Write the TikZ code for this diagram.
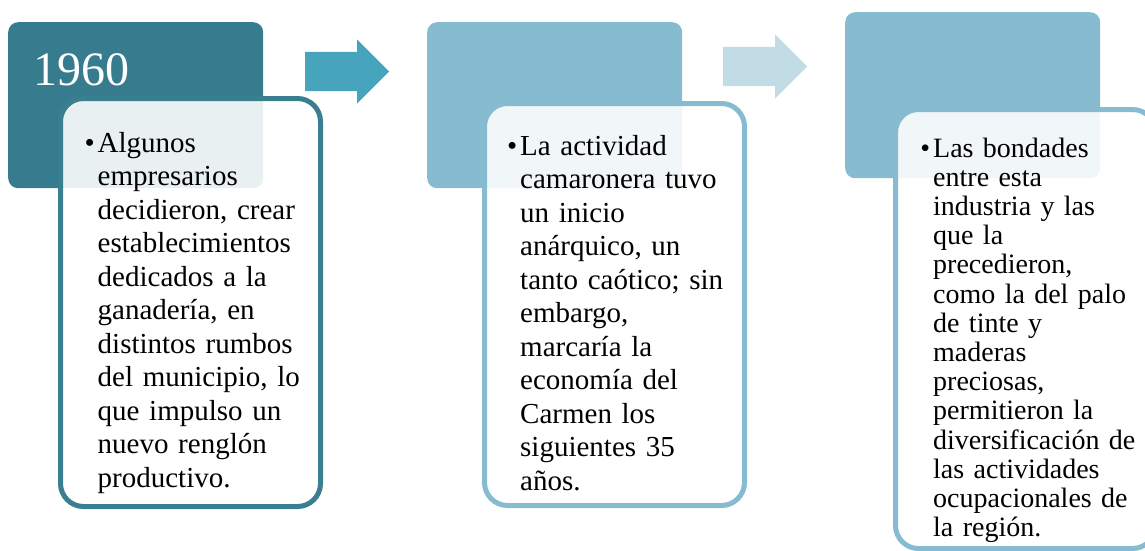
\documentclass[tikz,border=0pt]{standalone}
\usepackage{fontspec}
\setmainfont{Liberation Serif}
\usetikzlibrary{positioning}

\definecolor{tealdark}{HTML}{367C8E}
\definecolor{tealline}{HTML}{3A7F90}
\definecolor{tealarrow}{HTML}{46A4BC}
\definecolor{bluesoft}{HTML}{86BBD0}
\definecolor{bluepale}{HTML}{C2DCE5}

\begin{document}
\begin{tikzpicture}[x=1pt,y=-1pt,
    yearbox/.style={rectangle,rounded corners=10pt,minimum width=255pt,minimum height=166pt,inner sep=0pt,anchor=north west},
    notebox/.style={rectangle,rounded corners=23pt,line width=5pt,fill=white,fill opacity=0.89,draw opacity=1,minimum width=260pt,inner sep=0pt,anchor=north west},
    notetext/.style={anchor=base west,inner sep=0pt,text width=240pt,align=left,font=\fontsize{29}{33.55}\selectfont}]
    \useasboundingbox (0,0) rectangle (1145,551);
    \clip (0,0) rectangle (1145,551);

    % top boxes
    \node[yearbox,fill=tealdark] (year1) at (8,22) {};
    \node[yearbox,fill=bluesoft] (year2) at (427,22) {};
    \node[yearbox,fill=bluesoft] (year3) at (845,12) {};
    \node[anchor=base west,inner sep=0pt,text=white,font=\fontsize{48}{48}\selectfont] (label1) at (33,85) {1960};

    % text boxes
    \node[notebox,draw=tealline,minimum height=408pt] (note1) at (58,96) {};
    \node[notebox,draw=bluesoft,minimum height=402pt] (note2) at (482,101) {};
    \node[notebox,draw=bluesoft,minimum height=439pt] (note3) at (893,107) {};

    % block arrows
    \foreach \x/\y/\c in {305/71.5/tealarrow, 723/66.5/bluepale}
    \fill[\c,shift={(\x,\y)}] (0,-19.5) -- (52,-19.5) -- (52,-32) -- (84,0) -- (52,32) -- (52,19.5) -- (0,19.5) -- cycle;

    % texts
    \node[notetext] (text1) at (97.5,152) {\llap{\textbullet\hspace{3pt}}Algunos\\
        empresarios\\ decidieron, crear\\ establecimientos\\ dedicados a la\\
        ganadería, en\\ distintos rumbos\\ del municipio, lo\\ que impulso un\\
        nuevo renglón\\ productivo.};
    \node[notetext] (text2) at (520,155) {\llap{\textbullet\hspace{3pt}}La actividad\\
        camaronera tuvo\\ un inicio\\ anárquico, un\\ tanto caótico; sin\\
        embargo,\\ marcaría la\\ economía del\\ Carmen los\\ siguientes 35\\ años.};
    \node[notetext,font=\fontsize{28}{29.2}\selectfont] (text3) at (933,157) {\llap{\textbullet\hspace{3pt}}Las bondades\\
        entre esta\\ industria y las\\ que la\\ precedieron,\\ como la del palo\\
        de tinte y\\ maderas\\ preciosas,\\ permitieron la\\ diversificación de\\
        las actividades\\ ocupacionales de\\ la región.};
\end{tikzpicture}
\end{document}
